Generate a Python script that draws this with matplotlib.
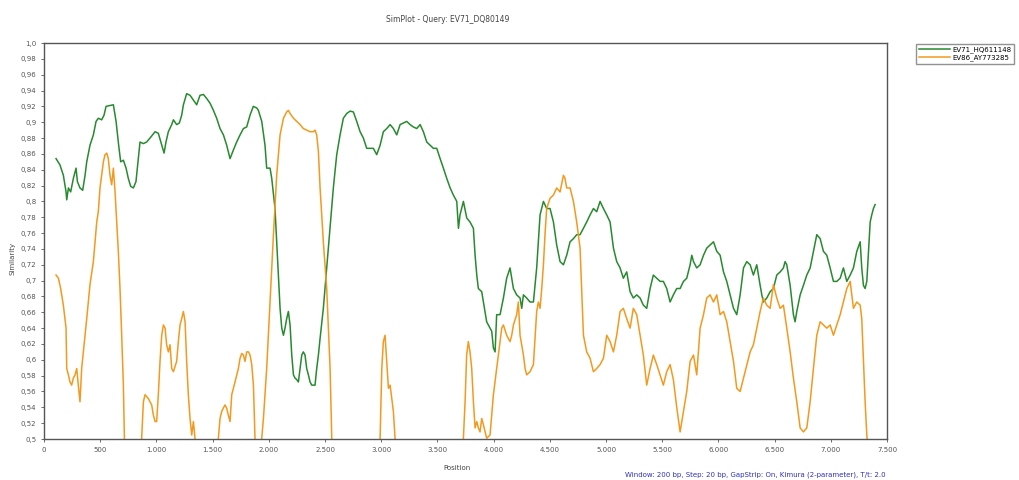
import matplotlib.pyplot as plt

# similarity along the query, 200 bp window / 20 bp step
pos_green = [107, 142, 172, 196, 202, 217, 237, 261, 285, 297, 320, 344, 365, 380, 409, 439, 463, 483,
             513, 534, 552, 587, 617, 641, 664, 682, 706, 730, 750, 771, 795, 818, 839, 854, 884, 913,
             943, 988, 1017, 1047, 1068, 1085, 1106, 1136, 1151, 1180, 1204, 1225, 1240, 1269, 1299,
             1329, 1358, 1388, 1418, 1447, 1477, 1507, 1536, 1566, 1596, 1625, 1655, 1685, 1714, 1744,
             1774, 1803, 1833, 1862, 1892, 1907, 1937, 1966, 1981, 2011, 2026, 2055, 2070, 2085, 2100,
             2115, 2130, 2144, 2159, 2174, 2189, 2204, 2219, 2233, 2248, 2263, 2278, 2293, 2307, 2322,
             2337, 2352, 2367, 2382, 2396, 2411, 2426, 2441, 2456, 2485, 2515, 2545, 2574, 2604, 2634,
             2663, 2693, 2723, 2752, 2782, 2812, 2841, 2871, 2901, 2930, 2960, 2990, 3019, 3049, 3079,
             3108, 3138, 3168, 3197, 3227, 3257, 3286, 3316, 3346, 3375, 3405, 3435, 3464, 3494, 3524,
             3553, 3583, 3613, 3642, 3672, 3687, 3701, 3731, 3761, 3790, 3820, 3835, 3850, 3864, 3894,
             3909, 3938, 3968, 3983, 3998, 4013, 4027, 4057, 4087, 4116, 4146, 4176, 4205, 4235, 4250,
             4265, 4294, 4324, 4354, 4383, 4413, 4443, 4472, 4502, 4532, 4561, 4591, 4621, 4650, 4680,
             4710, 4739, 4769, 4799, 4828, 4858, 4888, 4917, 4947, 4977, 5006, 5036, 5066, 5095, 5125,
             5154, 5184, 5214, 5243, 5273, 5303, 5332, 5362, 5392, 5421, 5451, 5481, 5510, 5540, 5570,
             5599, 5629, 5659, 5689, 5718, 5748, 5763, 5778, 5807, 5837, 5867, 5896, 5926, 5956, 5985,
             6015, 6045, 6074, 6104, 6134, 6163, 6193, 6223, 6252, 6282, 6311, 6341, 6371, 6386, 6400,
             6430, 6460, 6489, 6519, 6549, 6578, 6593, 6608, 6638, 6667, 6682, 6697, 6727, 6756, 6786,
             6816, 6845, 6875, 6905, 6934, 6964, 6994, 7023, 7053, 7083, 7112, 7142, 7172, 7201, 7231,
             7261, 7275, 7290, 7305, 7320, 7335, 7350, 7364, 7379, 7394]
sim_green = [0.854, 0.846, 0.833, 0.812, 0.802, 0.817, 0.812, 0.829, 0.842, 0.825, 0.817, 0.814, 0.833,
             0.850, 0.871, 0.884, 0.901, 0.905, 0.903, 0.909, 0.920, 0.921, 0.922, 0.901, 0.871, 0.850,
             0.852, 0.842, 0.829, 0.819, 0.817, 0.825, 0.854, 0.875, 0.873, 0.875, 0.880, 0.888, 0.886,
             0.871, 0.861, 0.875, 0.888, 0.897, 0.903, 0.897, 0.899, 0.909, 0.922, 0.936, 0.934, 0.928,
             0.922, 0.934, 0.935, 0.930, 0.924, 0.915, 0.905, 0.892, 0.884, 0.871, 0.854, 0.865, 0.875,
             0.884, 0.892, 0.894, 0.909, 0.920, 0.918, 0.915, 0.901, 0.871, 0.842, 0.842, 0.829, 0.791,
             0.749, 0.707, 0.665, 0.640, 0.631, 0.640, 0.652, 0.661, 0.644, 0.606, 0.581, 0.577, 0.575,
             0.572, 0.589, 0.606, 0.610, 0.606, 0.589, 0.581, 0.572, 0.568, 0.568, 0.568, 0.589, 0.606,
             0.627, 0.665, 0.716, 0.766, 0.817, 0.859, 0.884, 0.905, 0.911, 0.914, 0.913, 0.901, 0.888,
             0.880, 0.867, 0.867, 0.867, 0.859, 0.871, 0.888, 0.892, 0.897, 0.892, 0.884, 0.897, 0.899,
             0.901, 0.897, 0.894, 0.892, 0.897, 0.888, 0.875, 0.871, 0.867, 0.867, 0.854, 0.842, 0.829,
             0.817, 0.808, 0.800, 0.766, 0.783, 0.800, 0.779, 0.774, 0.766, 0.732, 0.707, 0.690, 0.686,
             0.673, 0.648, 0.640, 0.636, 0.615, 0.610, 0.657, 0.657, 0.678, 0.703, 0.716, 0.690, 0.682,
             0.678, 0.665, 0.682, 0.678, 0.673, 0.673, 0.716, 0.783, 0.800, 0.791, 0.791, 0.774, 0.745,
             0.724, 0.720, 0.732, 0.749, 0.753, 0.758, 0.758, 0.766, 0.774, 0.783, 0.791, 0.787, 0.800,
             0.791, 0.783, 0.774, 0.741, 0.724, 0.716, 0.703, 0.711, 0.686, 0.678, 0.682, 0.678, 0.669,
             0.665, 0.690, 0.707, 0.703, 0.699, 0.699, 0.690, 0.673, 0.682, 0.690, 0.690, 0.699, 0.703,
             0.720, 0.732, 0.724, 0.716, 0.720, 0.732, 0.741, 0.745, 0.749, 0.737, 0.732, 0.711, 0.699,
             0.682, 0.665, 0.657, 0.682, 0.716, 0.724, 0.720, 0.707, 0.720, 0.694, 0.682, 0.673, 0.678,
             0.686, 0.690, 0.707, 0.711, 0.716, 0.724, 0.720, 0.694, 0.657, 0.648, 0.661, 0.682, 0.694,
             0.707, 0.716, 0.737, 0.758, 0.753, 0.737, 0.732, 0.716, 0.699, 0.699, 0.703, 0.716, 0.699,
             0.707, 0.716, 0.737, 0.749, 0.716, 0.694, 0.690, 0.699, 0.737, 0.774, 0.783, 0.791, 0.796]

pos_orange = [107, 128, 148, 172, 196, 202, 217, 231, 246, 261, 276, 291, 305, 320, 335, 350, 365, 380,
              409, 439, 469, 483, 498, 528, 543, 558, 572, 587, 602, 617, 632, 647, 661, 676, 691, 706,
              715, 730, 790, 855, 869, 884, 899, 928, 958, 973, 988, 1002, 1017, 1032, 1047, 1062, 1077,
              1091, 1106, 1121, 1136, 1151, 1180, 1195, 1210, 1225, 1240, 1255, 1269, 1284, 1299, 1314,
              1329, 1343, 1360, 1450, 1535, 1551, 1566, 1581, 1610, 1625, 1640, 1655, 1670, 1685, 1699,
              1729, 1744, 1759, 1774, 1788, 1803, 1818, 1833, 1848, 1863, 1877, 1890, 1925, 1937, 1952,
              1981, 2011, 2041, 2070, 2100, 2130, 2159, 2174, 2189, 2219, 2248, 2278, 2307, 2337, 2367,
              2396, 2411, 2426, 2441, 2456, 2485, 2515, 2545, 2560, 2575, 2800, 2975, 2990, 3005, 3019,
              3034, 3049, 3064, 3079, 3094, 3108, 3123, 3135, 3500, 3715, 3731, 3746, 3760, 3775, 3790,
              3805, 3820, 3835, 3850, 3864, 3879, 3894, 3909, 3938, 3968, 3983, 3998, 4027, 4057, 4072,
              4087, 4116, 4146, 4161, 4176, 4205, 4220, 4235, 4265, 4280, 4294, 4324, 4354, 4383, 4398,
              4413, 4428, 4443, 4457, 4472, 4502, 4532, 4561, 4591, 4621, 4635, 4650, 4680, 4710, 4739,
              4769, 4799, 4828, 4858, 4888, 4917, 4947, 4977, 5006, 5036, 5066, 5095, 5125, 5154, 5184,
              5214, 5243, 5273, 5303, 5332, 5362, 5392, 5421, 5451, 5481, 5510, 5540, 5570, 5599, 5629,
              5659, 5689, 5718, 5748, 5778, 5807, 5837, 5867, 5896, 5926, 5956, 5985, 6015, 6045, 6074,
              6104, 6134, 6163, 6193, 6223, 6252, 6282, 6311, 6341, 6371, 6400, 6430, 6460, 6489, 6519,
              6549, 6578, 6608, 6638, 6667, 6697, 6727, 6756, 6786, 6816, 6845, 6875, 6905, 6934, 6964,
              6994, 7023, 7053, 7083, 7112, 7142, 7172, 7201, 7231, 7261, 7275, 7290, 7305, 7320, 7335]
sim_orange = [0.707, 0.703, 0.690, 0.669, 0.640, 0.589, 0.581, 0.572, 0.568, 0.577, 0.581, 0.589, 0.568,
              0.547, 0.589, 0.610, 0.631, 0.652, 0.695, 0.724, 0.774, 0.787, 0.817, 0.850, 0.859, 0.861,
              0.854, 0.833, 0.821, 0.842, 0.812, 0.774, 0.737, 0.690, 0.631, 0.568, 0.501, 0.46, 0.44,
              0.46, 0.501, 0.547, 0.556, 0.551, 0.543, 0.530, 0.522, 0.522, 0.556, 0.598, 0.631, 0.644,
              0.640, 0.619, 0.610, 0.619, 0.589, 0.585, 0.598, 0.623, 0.644, 0.652, 0.661, 0.648, 0.598,
              0.556, 0.526, 0.505, 0.522, 0.501, 0.46, 0.43, 0.46, 0.501, 0.526, 0.535, 0.543, 0.539,
              0.530, 0.522, 0.556, 0.564, 0.572, 0.589, 0.602, 0.608, 0.606, 0.598, 0.610, 0.610, 0.606,
              0.594, 0.568, 0.501, 0.46, 0.46, 0.501, 0.526, 0.589, 0.673, 0.758, 0.833, 0.884, 0.905,
              0.913, 0.915, 0.911, 0.905, 0.901, 0.897, 0.892, 0.890, 0.888, 0.888, 0.890, 0.884, 0.863,
              0.817, 0.749, 0.690, 0.589, 0.501, 0.46, 0.40, 0.46, 0.501, 0.589, 0.623, 0.631, 0.598,
              0.564, 0.568, 0.551, 0.535, 0.501, 0.46, 0.40, 0.46, 0.501, 0.547, 0.606, 0.623, 0.610,
              0.589, 0.547, 0.514, 0.522, 0.514, 0.509, 0.526, 0.518, 0.501, 0.505, 0.530, 0.556, 0.589,
              0.623, 0.640, 0.644, 0.631, 0.623, 0.631, 0.644, 0.657, 0.673, 0.631, 0.606, 0.589, 0.581,
              0.585, 0.594, 0.661, 0.673, 0.665, 0.690, 0.720, 0.758, 0.791, 0.804, 0.808, 0.817, 0.812,
              0.833, 0.829, 0.817, 0.817, 0.800, 0.774, 0.741, 0.631, 0.610, 0.602, 0.585, 0.589, 0.594,
              0.602, 0.631, 0.623, 0.610, 0.631, 0.661, 0.665, 0.652, 0.640, 0.665, 0.657, 0.631, 0.606,
              0.568, 0.589, 0.606, 0.594, 0.581, 0.568, 0.585, 0.594, 0.575, 0.540, 0.509, 0.535, 0.560,
              0.598, 0.606, 0.581, 0.640, 0.657, 0.678, 0.682, 0.673, 0.682, 0.657, 0.661, 0.648, 0.623,
              0.598, 0.564, 0.560, 0.577, 0.594, 0.610, 0.619, 0.640, 0.661, 0.678, 0.669, 0.665, 0.695,
              0.678, 0.665, 0.669, 0.640, 0.610, 0.577, 0.547, 0.514, 0.509, 0.514, 0.547, 0.589, 0.631,
              0.648, 0.644, 0.640, 0.644, 0.631, 0.644, 0.657, 0.673, 0.690, 0.699, 0.665, 0.673, 0.669,
              0.652, 0.598, 0.547, 0.505, 0.48]

series_names = ["EV71_HQ611148", "EV86_AY773285"]
xticks = [0, 500, 1000, 1500, 2000, 2500, 3000, 3500, 4000, 4500, 5000, 5500, 6000, 6500, 7000, 7500]
yticks = [round(0.5 + 0.02 * i, 2) for i in range(26)]
ytick_labels = [f"{t:g}".replace(".", ",") for t in yticks[:-1]] + ["1,0"]

fig = plt.figure(figsize=(10.19, 4.8), dpi=100)
ax = fig.add_axes([0.0432, 0.0854, 0.8273, 0.825])

ax.plot(pos_green, sim_green, color="#278a2f", lw=1.1, label=series_names[0])
ax.plot(pos_orange, sim_orange, color="#f39a1e", lw=1.1, label=series_names[1])

ax.set_xlim(0, 7500)
ax.set_ylim(0.5, 1.0)
ax.set_xticks(xticks)
ax.set_xticklabels([f"{t:,}".replace(",", ".") for t in xticks])
ax.set_yticks(yticks)
ax.set_yticklabels(ytick_labels)
ax.tick_params(labelsize=5, colors="#555555", length=2, width=0.6)
for s in ax.spines.values():
    s.set_color("#555555")
    s.set_linewidth(1.0)

fig.text(448 / 1019, 1 - 20 / 480, "SimPlot - Query: EV71_DQ80149", ha="center", va="center",
         fontsize=5.5, color="#444444")
fig.text(457 / 1019, 1 - 468 / 480, "Position", ha="center", va="center", fontsize=5, color="#444444")
fig.text(12 / 1019, 1 - 258 / 480, "Similarity", ha="center", va="center", rotation=90,
         fontsize=5, color="#444444")
fig.text(886 / 1019, 1 - 475 / 480,
         "Window: 200 bp, Step: 20 bp, GapStrip: On, Kimura (2-parameter), T/t: 2.0",
         ha="right", va="center", fontsize=5, color="#3030c0")

fig.legend(loc="upper left", bbox_to_anchor=(913 / 1019, 1 - 41 / 480), fontsize=5, frameon=True,
           fancybox=False, edgecolor="#777777", handlelength=4.5, borderpad=0.3, labelspacing=0.2,
           handletextpad=0.4)

fig.savefig("out.png", dpi=100)
